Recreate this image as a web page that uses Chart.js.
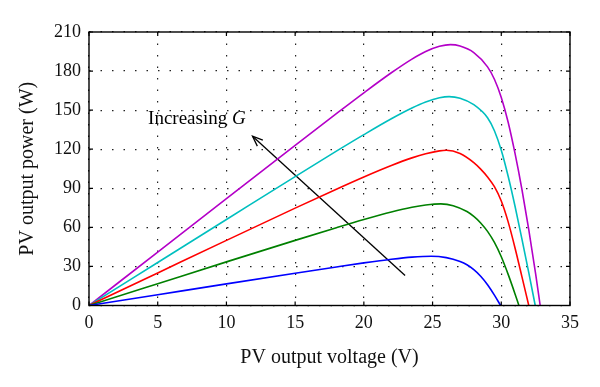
<!DOCTYPE html>
<html>
<head>
<meta charset="utf-8">
<script src="https://cdn.jsdelivr.net/npm/chart.js@4"></script>
<style>
  html, body { margin: 0; padding: 0; background: #fff; }
  #wrap { width: 600px; height: 387px; }
</style>
</head>
<body>
<div id="wrap"><canvas id="chart" width="600" height="387"></canvas></div>
<script>
// PV curves, one per irradiance level
const voltageBlue = [0, 5, 10, 15, 18, 20, 22, 23.5, 24.9, 26, 27, 27.5, 28, 28.5, 29, 29.5, 29.95];
const powerBlue = [0, 8.3, 16.6, 24.8, 29.6, 32.7, 35.5, 37.15, 37.85, 36.75, 33.75, 31.25, 27.5, 22.5, 16, 8, 0];

const voltageGreen = [0, 5, 10, 15, 18, 20, 22, 23.5, 24.5, 25.6, 26.5, 27.5, 28, 28.5, 29, 29.5, 30, 30.5, 31, 31.28];
const powerGreen = [0, 16.75, 33.5, 50, 59.75, 66.05, 71.85, 75.45, 77.15, 78, 76.65, 72.15, 68.4, 63.4, 56.9, 48.4, 37.4, 23.9, 8.9, 0];

const voltageRed = [0, 5, 10, 15, 18, 20, 22, 23.5, 24.5, 25.5, 26, 27, 28, 28.5, 29, 29.5, 30, 30.5, 31, 31.5, 32];
const powerRed = [0, 25, 50, 74.75, 89.3, 98.7, 107.5, 113.35, 116.55, 118.75, 119.2, 116.7, 109.7, 104.7, 98.7, 91.2, 80.2, 64.2, 44.2, 22.2, 0];

const voltageCyan = [0, 5, 10, 15, 18, 20, 22, 23.5, 24.5, 25.5, 26.2, 27, 28, 29, 29.5, 30, 30.5, 31, 31.5, 32, 32.47];
const powerCyan = [0, 33, 66, 99, 118.5, 131.2, 143.4, 151.65, 156.25, 159.45, 160.4, 159.2, 154.2, 144.2, 134.2, 119.2, 99.2, 76.2, 51.2, 25.2, 0];

const voltageMagenta = [0, 5, 10, 15, 18, 20, 22, 23.5, 24.5, 25.5, 26.3, 27, 28, 29, 29.5, 30, 30.5, 31, 31.5, 32, 32.5, 32.83];
const powerMagenta = [0, 41, 82, 123, 147.3, 163.3, 178.7, 189.2, 195, 199, 200.3, 199.25, 194.25, 183.25, 173.75, 159.75, 140.75, 116.75, 89.25, 58.25, 24.25, 0];

const xTicks = [0, 5, 10, 15, 20, 25, 30, 35];
const yTicks = [0, 30, 60, 90, 120, 150, 180, 210];

// arrow "Increasing G": tail -> head, in data units
const arrowV = [23, 11.9];
const arrowP = [23, 130];

const serif = '"Liberation Serif", "DejaVu Serif", serif';

function pts(xs, ys) {
  return xs.map((v, i) => ({ x: v, y: ys[i] }));
}

function curve(xs, ys, color) {
  return {
    data: pts(xs, ys),
    borderColor: color,
    borderWidth: 1.6,
    showLine: true,
    pointRadius: 0,
    cubicInterpolationMode: 'monotone',
    fill: false
  };
}

const frame = {
  id: 'frame',
  afterDatasetsDraw(chart) {
    const { ctx, chartArea: a, scales } = chart;
    ctx.save();
    ctx.strokeStyle = '#000';
    ctx.lineWidth = 1.4;
    ctx.strokeRect(a.left, a.top, a.right - a.left, a.bottom - a.top);
    // inward tick marks on all four sides
    ctx.lineWidth = 1.2;
    const t = 4;
    ctx.beginPath();
    xTicks.forEach(v => {
      const x = scales.x.getPixelForValue(v);
      ctx.moveTo(x, a.bottom); ctx.lineTo(x, a.bottom - t);
      ctx.moveTo(x, a.top); ctx.lineTo(x, a.top + t);
    });
    yTicks.forEach(v => {
      const y = scales.y.getPixelForValue(v);
      ctx.moveTo(a.left, y); ctx.lineTo(a.left + t, y);
      ctx.moveTo(a.right, y); ctx.lineTo(a.right - t, y);
    });
    ctx.stroke();

    // arrow head
    const x0 = scales.x.getPixelForValue(arrowV[0]);
    const y0 = scales.y.getPixelForValue(arrowP[0]);
    const x1 = scales.x.getPixelForValue(arrowV[1]);
    const y1 = scales.y.getPixelForValue(arrowP[1]);
    const ang = Math.atan2(y1 - y0, x1 - x0);
    const len = 11, spread = 0.38;
    ctx.lineWidth = 1.3;
    ctx.beginPath();
    ctx.moveTo(x1 - len * Math.cos(ang - spread), y1 - len * Math.sin(ang - spread));
    ctx.lineTo(x1, y1);
    ctx.lineTo(x1 - len * Math.cos(ang + spread), y1 - len * Math.sin(ang + spread));
    ctx.stroke();

    // label
    const tx = scales.x.getPixelForValue(4.3);
    const ty = scales.y.getPixelForValue(143);
    ctx.fillStyle = '#000';
    ctx.textBaseline = 'middle';
    ctx.textAlign = 'left';
    ctx.font = '19px ' + serif;
    ctx.fillText('Increasing ', tx, ty);
    const w = ctx.measureText('Increasing ').width;
    ctx.font = 'italic 19px ' + serif;
    ctx.fillText('G', tx + w, ty);
    ctx.restore();
  }
};

new Chart(document.getElementById('chart').getContext('2d'), {
  type: 'scatter',
  data: {
    datasets: [
      curve(voltageBlue, powerBlue, 'rgb(0,0,255)'),
      curve(voltageGreen, powerGreen, 'rgb(0,128,0)'),
      curve(voltageRed, powerRed, 'rgb(255,0,0)'),
      curve(voltageCyan, powerCyan, 'rgb(0,191,191)'),
      curve(voltageMagenta, powerMagenta, 'rgb(180,0,200)'),
      {
        data: pts(arrowV, arrowP),
        borderColor: '#000',
        borderWidth: 1.3,
        showLine: true,
        pointRadius: 0,
        tension: 0
      }
    ]
  },
  options: {
    responsive: false,
    animation: false,
    layout: { padding: { left: 16, right: 30, top: 32, bottom: 17 } },
    plugins: {
      legend: { display: false },
      tooltip: { enabled: false }
    },
    scales: {
      x: {
        type: 'linear',
        min: 0,
        max: 35,
        afterBuildTicks(s) { s.ticks = xTicks.map(v => ({ value: v })); },
        afterFit(s) { s.height = 64.5; },
        border: { display: false, dash: [1.5, 10] },
        grid: {
          color: '#222',
          lineWidth: 1.2,
          drawTicks: false
        },
        ticks: {
          padding: 7,
          color: '#111',
          font: { family: serif, size: 18 }
        },
        title: {
          display: true,
          text: 'PV output voltage (V)',
          color: '#111',
          padding: 0,
          font: { family: serif, size: 20 }
        }
      },
      y: {
        type: 'linear',
        min: 0,
        max: 210,
        afterBuildTicks(s) { s.ticks = yTicks.map(v => ({ value: v })); },
        afterFit(s) { s.width = 73; },
        border: { display: false, dash: [1.5, 10] },
        grid: {
          color: '#222',
          lineWidth: 1.2,
          drawTicks: false
        },
        ticks: {
          padding: 8,
          color: '#111',
          font: { family: serif, size: 18 }
        },
        title: {
          display: true,
          text: 'PV output power (W)',
          color: '#111',
          padding: 0,
          font: { family: serif, size: 20 }
        }
      }
    }
  },
  plugins: [frame]
});
</script>
</body>
</html>
